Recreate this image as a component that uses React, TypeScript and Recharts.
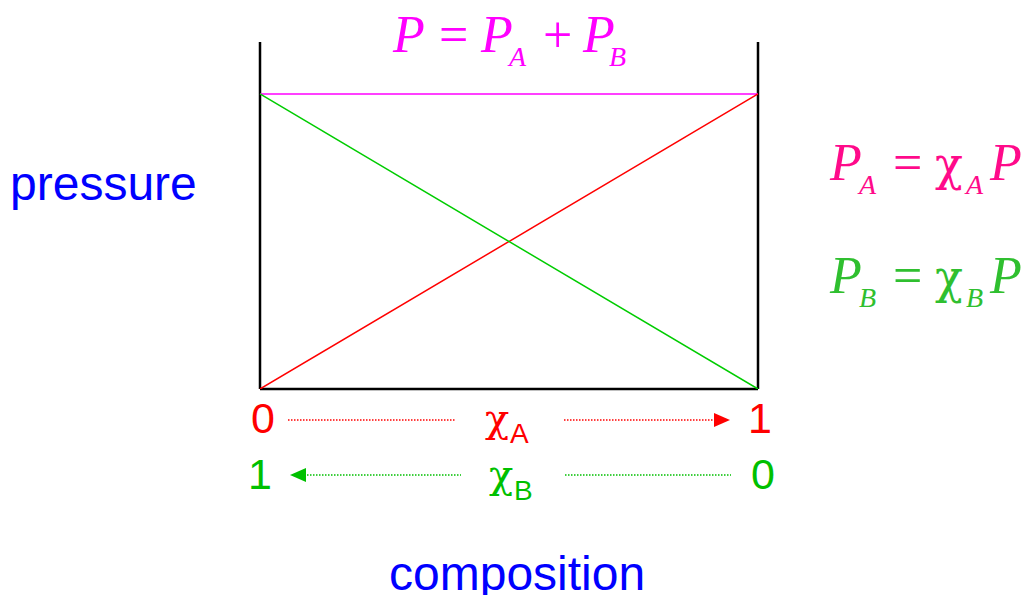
import { LineChart, Line, XAxis, YAxis, ReferenceLine } from 'recharts';

// mole fraction of A along the bottom axis
const xA = [0, 1];
// pressures, scaled so the pure-component pressure is 1
const totalP = [1, 1];
const partialA = [0, 1];
const partialB = [1, 0];
const wallTop = 1.176;

const data = xA.map((x, i) => ({ x, total: totalP[i], pa: partialA[i], pb: partialB[i] }));

const serif = '"Liberation Serif", "Times New Roman", serif';
const greek = '"DejaVu Serif", serif';
const sans = '"Liberation Sans", Arial, sans-serif';

function Overlay() {
  return (
    <svg width={1027} height={595} style={{ position: 'absolute', left: 0, top: 0, pointerEvents: 'none' }}>
      {/* top formula */}
      <g fill="#ff00ff" fontFamily={serif} fontSize={52}>
        <text x={393} y={52} fontStyle="italic">P</text>
        <text x={439} y={52}>=</text>
        <text x={481} y={52} fontStyle="italic">P</text>
        <text x={509} y={66} fontStyle="italic" fontSize={28}>A</text>
        <text x={543} y={52}>+</text>
        <text x={583} y={52} fontStyle="italic">P</text>
        <text x={609} y={66} fontStyle="italic" fontSize={28}>B</text>
      </g>

      {/* side labels */}
      <text x={10} y={200} fill="#0000ff" fontFamily={sans} fontSize={48}>pressure</text>
      <text x={389} y={590} fill="#0000ff" fontFamily={sans} fontSize={48}>composition</text>

      {/* P_A = chi_A P */}
      <g fill="#ff0a8a" fontFamily={serif} fontSize={52}>
        <text x={830} y={180} fontStyle="italic">P</text>
        <text x={859} y={194} fontStyle="italic" fontSize={28}>A</text>
        <text x={893} y={180}>=</text>
        <text x={935} y={180} fontFamily={greek} fontSize={46}>χ</text>
        <text x={966} y={194} fontStyle="italic" fontSize={28}>A</text>
        <text x={990} y={180} fontStyle="italic">P</text>
      </g>
      <g fill="#2fbf2f" fontFamily={serif} fontSize={52}>
        <text x={830} y={293} fontStyle="italic">P</text>
        <text x={859} y={307} fontStyle="italic" fontSize={28}>B</text>
        <text x={893} y={293}>=</text>
        <text x={935} y={293} fontFamily={greek} fontSize={46}>χ</text>
        <text x={966} y={307} fontStyle="italic" fontSize={28}>B</text>
        <text x={990} y={293} fontStyle="italic">P</text>
      </g>

      {/* x_A axis */}
      <g fill="#ff0000" fontSize={43}>
        <text x={251} y={433} fontFamily={sans}>0</text>
        <text x={485} y={432} fontFamily={greek} fontSize={40}>χ</text>
        <text x={510} y={443} fontFamily={sans} fontSize={28}>A</text>
        <text x={748} y={433} fontFamily={sans}>1</text>
      </g>
      <line x1={288} y1={420} x2={455} y2={420} stroke="#ff0000" strokeWidth={1.5} strokeDasharray="1.5 1.5" />
      <line x1={564} y1={420} x2={716} y2={420} stroke="#ff0000" strokeWidth={1.5} strokeDasharray="1.5 1.5" />
      <polygon points="714,413 730,420 714,427" fill="#ff0000" />

      {/* x_B axis */}
      <g fill="#00c000" fontSize={43}>
        <text x={248} y={489} fontFamily={sans}>1</text>
        <text x={489} y={488} fontFamily={greek} fontSize={40}>χ</text>
        <text x={514} y={500} fontFamily={sans} fontSize={28}>B</text>
        <text x={751} y={489} fontFamily={sans}>0</text>
      </g>
      <polygon points="306,468 290,475 306,482" fill="#00c000" />
      <line x1={304} y1={475} x2={461} y2={475} stroke="#00c000" strokeWidth={1.5} strokeDasharray="1.5 1.5" />
      <line x1={565} y1={475} x2={731} y2={475} stroke="#00c000" strokeWidth={1.5} strokeDasharray="1.5 1.5" />
    </svg>
  );
}

export default function App() {
  return (
    <div style={{ position: 'absolute', left: 0, top: 0, width: 1027, height: 595, background: '#fff' }}>
      <LineChart width={1027} height={595} data={data} margin={{ top: 42, right: 269, bottom: 206, left: 260 }}>
        <XAxis type="number" dataKey="x" domain={[0, 1]} hide />
        <YAxis type="number" domain={[0, wallTop]} hide allowDataOverflow />
        <ReferenceLine x={0} stroke="#000" strokeWidth={2.5} />
        <ReferenceLine x={1} stroke="#000" strokeWidth={2.5} />
        <ReferenceLine y={0} stroke="#000" strokeWidth={2.5} />
        <Line dataKey="total" stroke="#ff00ff" strokeWidth={1.5} dot={false} isAnimationActive={false} />
        <Line dataKey="pa" stroke="#ff0000" strokeWidth={1.5} dot={false} isAnimationActive={false} />
        <Line dataKey="pb" stroke="#00cc00" strokeWidth={1.5} dot={false} isAnimationActive={false} />
      </LineChart>
      <Overlay />
    </div>
  );
}
